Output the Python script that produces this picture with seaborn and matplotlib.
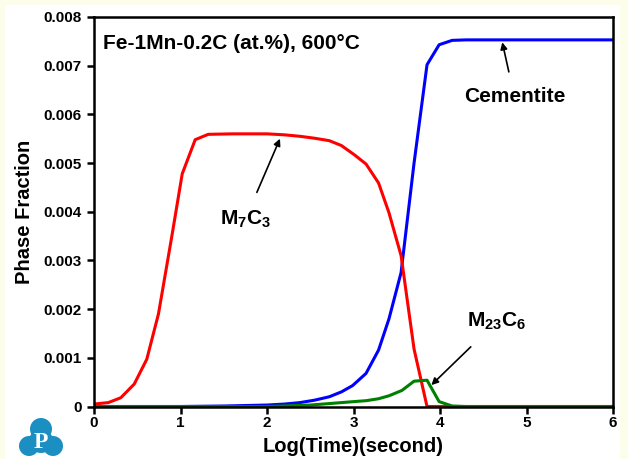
import matplotlib
matplotlib.use("Agg")
import matplotlib.pyplot as plt
import numpy as np
import pandas as pd
import seaborn as sns
from matplotlib.patches import Circle, Rectangle

# Data (x = log10 of time in seconds)
m7c3_x = [0, 0.165, 0.31, 0.465, 0.61, 0.745, 0.9, 1.02, 1.17, 1.32, 1.6, 2.0, 2.2,
          2.38, 2.55, 2.72, 2.86, 3.01, 3.145, 3.29, 3.41, 3.55, 3.70, 3.85, 4.0, 5.0, 6.0]
m7c3_y = [0.00005, 0.00008, 0.00018, 0.00046, 0.00097, 0.0019, 0.0035, 0.00478, 0.00548,
          0.00559, 0.0056, 0.0056, 0.00558, 0.00555, 0.00551, 0.00546, 0.00536, 0.00517,
          0.00498, 0.00459, 0.00398, 0.0031, 0.00118, 0.0, 0.0, 0.0, 0.0]

cem_x = [0, 1.0, 1.5, 2.0, 2.2, 2.38, 2.55, 2.72, 2.86, 2.99, 3.145, 3.29, 3.41, 3.55,
         3.70, 3.85, 3.99, 4.14, 4.3, 5.0, 6.0]
cem_y = [0.0, 0.0, 0.00001, 0.00003, 0.00005, 0.00008, 0.00013, 0.0002, 0.0003, 0.00043,
         0.00068, 0.00116, 0.0018, 0.00275, 0.0050, 0.00702, 0.00743, 0.00752, 0.00753,
         0.00753, 0.00753]

m23c6_x = [0, 1.0, 2.0, 2.5, 2.72, 3.0, 3.15, 3.29, 3.41, 3.56, 3.70, 3.85, 3.99, 4.14,
           4.3, 5.0, 6.0]
m23c6_y = [0.0, 0.0, 0.0, 0.00003, 0.00006, 0.0001, 0.00012, 0.00016, 0.00022, 0.00033,
           0.00052, 0.00054, 0.0001, 0.00001, 0.0, 0.0, 0.0]

phases = ["Cementite", "M7C3", "M23C6"]
colors = ["#0000ff", "#ff0000", "#008000"]

x_ticks = [0, 1, 2, 3, 4, 5, 6]
y_ticks = [0, 0.001, 0.002, 0.003, 0.004, 0.005, 0.006, 0.007, 0.008]
y_tick_labels = ["0", "0.001", "0.002", "0.003", "0.004", "0.005", "0.006", "0.007", "0.008"]

df = pd.concat([
    pd.DataFrame({"logt": cem_x, "frac": cem_y, "phase": "Cementite"}),
    pd.DataFrame({"logt": m7c3_x, "frac": m7c3_y, "phase": "M7C3"}),
    pd.DataFrame({"logt": m23c6_x, "frac": m23c6_y, "phase": "M23C6"}),
], ignore_index=True)

sns.set_style("ticks")
plt.rcParams["font.family"] = ["Liberation Sans", "DejaVu Sans"]
plt.rcParams["font.weight"] = "bold"
plt.rcParams["text.color"] = "black"
plt.rcParams["axes.labelcolor"] = "black"
plt.rcParams["xtick.color"] = "black"
plt.rcParams["ytick.color"] = "black"
plt.rcParams["mathtext.fontset"] = "custom"
plt.rcParams["mathtext.rm"] = "Liberation Sans:bold"
plt.rcParams["mathtext.bf"] = "Liberation Sans:bold"
plt.rcParams["mathtext.it"] = "Liberation Sans:bold"

fig = plt.figure(figsize=(6.28, 4.59), dpi=100)
fig.patch.set_facecolor("#fdfdec")
fig.patches.append(Rectangle((5 / 628, 0), 615 / 628, 454 / 459,
                             transform=fig.transFigure, facecolor="white",
                             edgecolor="none", zorder=-10))

ax = fig.add_axes([94 / 628, 1 - 406.5 / 459, 519 / 628, 389.5 / 459])
ax.set_facecolor("white")

sns.lineplot(data=df, x="logt", y="frac", hue="phase", hue_order=phases,
             palette=colors, estimator=None, sort=False, linewidth=2.2,
             legend=False, ax=ax)

ax.set_xlim(0, 6)
ax.set_ylim(0, 0.008)
ax.set_xticks(x_ticks)
ax.set_xticklabels([str(t) for t in x_ticks])
ax.set_yticks(y_ticks)
ax.set_yticklabels(y_tick_labels)
ax.tick_params(direction="out", length=5, width=1.8, labelsize=11, colors="black")
ax.tick_params(axis="x", pad=1.5)
ax.tick_params(axis="y", pad=4)
for lbl in ax.get_xticklabels() + ax.get_yticklabels():
    lbl.set_fontweight("bold")
for s in ax.spines.values():
    s.set_linewidth(1.8)
    s.set_color("black")

ax.set_xlabel("Log(Time)(second)", fontsize=14.5, fontweight="bold")
ax.set_ylabel("Phase Fraction", fontsize=14.5, fontweight="bold")
ax.xaxis.set_label_coords(0.5, (406.5 - 437) / 389.5)
ax.yaxis.set_label_coords((34 - 94) / 519, 0.5)

ax.text(0.1, 0.00745, "Fe-1Mn-0.2C (at.%), 600°C", fontsize=15,
        fontweight="bold", ha="left", va="center")

arrow = dict(arrowstyle="-|>", color="black", lw=1.2, mutation_scale=10)
ax.annotate(r"M$_7$C$_3$", xy=(2.15, 0.0055), xytext=(1.75, 0.00385),
            fontsize=15, fontweight="bold", ha="center", va="center",
            arrowprops=dict(arrow, shrinkA=10, shrinkB=0))
ax.annotate("Cementite", xy=(4.72, 0.00748), xytext=(4.86, 0.00636),
            fontsize=15, fontweight="bold", ha="center", va="center",
            arrowprops=dict(arrow, shrinkA=9, shrinkB=0))
ax.annotate(r"M$_{23}$C$_6$", xy=(3.9, 0.00044), xytext=(4.66, 0.00175),
            fontsize=15, fontweight="bold", ha="center", va="center",
            arrowprops=dict(arrow, shrinkA=12, shrinkB=0))

# small logo bottom-left
lax = fig.add_axes([18 / 628, 1 - 458 / 459, 46 / 628, 42 / 459])
lax.set_xlim(0, 46)
lax.set_ylim(0, 42)
lax.set_aspect("equal")
lax.axis("off")
for cx, cy, r in [(23, 29, 11), (11, 12, 10), (35, 12, 10), (23, 17, 12)]:
    lax.add_patch(Circle((cx, cy), r, color="#1b8fc2", lw=0))
lax.text(23, 16, "P", color="white", fontsize=17, fontweight="bold",
         family=["Liberation Serif", "DejaVu Serif"], ha="center", va="center")

fig.savefig("out.png", dpi=100)
